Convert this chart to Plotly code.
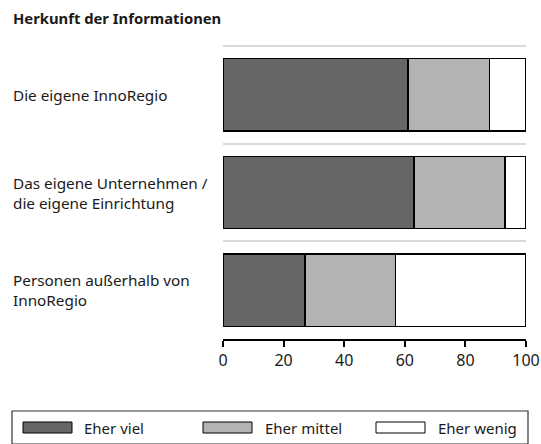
import plotly.graph_objects as go

# ---- data ----
categories = ["Die eigene InnoRegio",
              "Das eigene Unternehmen /<br>die eigene Einrichtung",
              "Personen außerhalb von<br>InnoRegio"]
series_names = ["Eher viel", "Eher mittel", "Eher wenig"]
eher_viel = [61, 63, 27]
eher_mittel = [27, 30, 30]
eher_wenig = [12, 7, 43]
x_ticks = [0, 20, 40, 60, 80, 100]
title_text = "Herkunft der Informationen"

colors = ["#666666", "#b3b3b3", "#ffffff"]
FONT = "Noto Sans"
TXT = "#1a1a1a"

W, H = 541, 444
ML, MR, MT, MB = 223, 15, 46, 105
PW, PH = W - ML - MR, H - MT - MB

def px(x):
    return (x - ML) / PW

def py(y):
    return (H - MB - y) / PH

fig = go.Figure()
for name, vals, col in zip(series_names, [eher_viel, eher_mittel, eher_wenig], colors):
    fig.add_trace(go.Bar(
        y=categories, x=vals, name=name, orientation="h",
        marker=dict(color=col, line=dict(color="#000000", width=1.5)),
        width=0.74, showlegend=False, hoverinfo="x+name",
    ))

annotations = []
annotations.append(dict(text="<b>" + title_text + "</b>", xref="paper", yref="paper",
                        x=px(11), y=py(18), xanchor="left", yanchor="middle",
                        showarrow=False, font=dict(family=FONT, size=14.8, color=TXT)))
for i, cat in enumerate(categories):
    annotations.append(dict(text=cat, xref="paper", yref="y", x=px(11), y=i,
                            xanchor="left", yanchor="middle", align="left",
                            showarrow=False,
                            font=dict(family=FONT, size=15.3, color=TXT)))

shapes = []
# top separator line
shapes.append(dict(type="line", xref="paper", yref="paper", x0=0, x1=1, y0=1, y1=1,
                   line=dict(color="#d9d9d9", width=2), layer="below"))
# legend box
shapes.append(dict(type="rect", xref="paper", yref="paper",
                   x0=px(12), x1=px(528), y0=py(444), y1=py(411),
                   line=dict(color="#333333", width=1.2), fillcolor="rgba(0,0,0,0)"))
leg_items = [(23, 82), (203, 263), (376, 436)]
for (sx, tx), name, col in zip(leg_items, series_names, colors):
    shapes.append(dict(type="rect", xref="paper", yref="paper",
                       x0=px(sx), x1=px(sx + 49), y0=py(433), y1=py(422),
                       line=dict(color="#000000", width=1), fillcolor=col))
    annotations.append(dict(text=name, xref="paper", yref="paper",
                            x=px(tx), y=py(427.5), xanchor="left", yanchor="middle",
                            showarrow=False,
                            font=dict(family=FONT, size=15, color=TXT)))

fig.update_layout(
    width=W, height=H, barmode="stack",
    margin=dict(l=ML, r=MR, t=MT, b=MB, autoexpand=False),
    paper_bgcolor="white", plot_bgcolor="white",
    font=dict(family=FONT, size=14, color=TXT),
    xaxis=dict(range=[0, 100], tickvals=x_ticks, ticks="outside", ticklen=6,
               tickwidth=1.5, tickcolor="#000000", showline=True, linecolor="#000000",
               linewidth=1.5, showgrid=False, zeroline=False, automargin=False,
               tickfont=dict(family=FONT, size=16, color=TXT)),
    yaxis=dict(type="category", categoryarray=categories, range=[2.5, -0.5],
               tickson="boundaries", showgrid=True, gridcolor="#d9d9d9", gridwidth=2,
               showticklabels=False, ticks="", zeroline=False, showline=False,
               automargin=False),
    annotations=annotations, shapes=shapes,
)

fig.write_html("out.html", config={"displayModeBar": False},
               post_script="document.body.style.margin='0';")
